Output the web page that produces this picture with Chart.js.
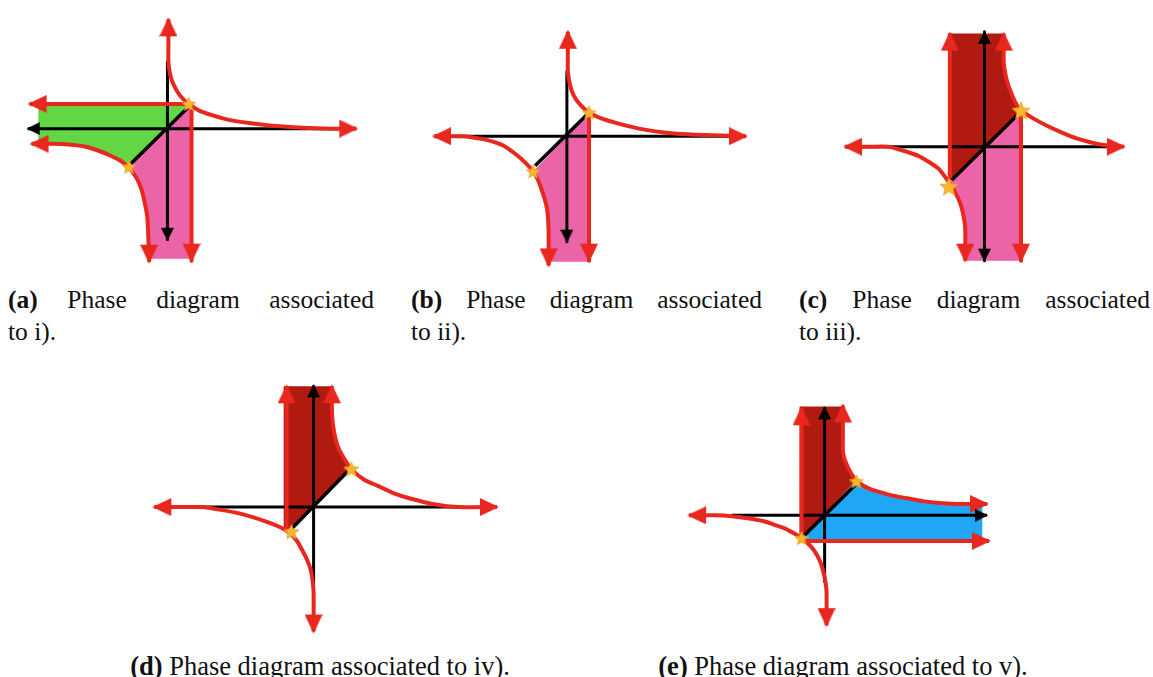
<!DOCTYPE html>
<html>
<head>
<meta charset="utf-8">
<script src="https://cdn.jsdelivr.net/npm/chart.js@4.4.1/dist/chart.umd.min.js"></script>
<style>
  html, body { margin:0; padding:0; background:#fff; }
  body { width:1153px; height:677px; position:relative; overflow:hidden; font-family:"Liberation Serif", "DejaVu Serif", serif; color:#111; }
  canvas { position:absolute; }
  .cap { position:absolute; font-size:25.5px; line-height:32px; white-space:nowrap; }
  .just { white-space:normal; text-align:justify; text-align-last:justify; }
  .ctr { transform:translateX(-50%); font-size:26.5px; }
</style>
</head>
<body>
<canvas id="pa"></canvas>
<canvas id="pb"></canvas>
<canvas id="pc"></canvas>
<canvas id="pd"></canvas>
<canvas id="pe"></canvas>

<div class="cap just" style="left:8px;top:284px;width:366px"><b>(a)</b> Phase diagram associated</div>
<div class="cap" style="left:8px;top:316px">to i).</div>
<div class="cap just" style="left:411px;top:284px;width:351px"><b>(b)</b> Phase diagram associated</div>
<div class="cap" style="left:411px;top:316px">to ii).</div>
<div class="cap just" style="left:799px;top:284px;width:351px"><b>(c)</b> Phase diagram associated</div>
<div class="cap" style="left:799px;top:316px">to iii).</div>
<div class="cap ctr" style="left:320px;top:650px"><b>(d)</b> Phase diagram associated to iv).</div>
<div class="cap ctr" style="left:843px;top:650px"><b>(e)</b> Phase diagram associated to v).</div>

<script>
// ---------- DATA (local units: origin at the axes crossing, y upward) ----------
// Panel (a)
const aUpperCurve = [[1,115],[1,90],[1,70],[3,56],[7,45],[13,35],[22,26],[33,19],[47,14],[65,9],[85,6],[110,3],[140,1],[170,0],[196,0]];
const aLowerCurve = [[-141,-16],[-120,-16],[-100,-17],[-85,-19],[-72,-23],[-60,-28],[-50,-33],[-42,-39],[-36,-46],[-31,-54],[-27,-64],[-24,-76],[-21,-92],[-20,-110],[-19,-140]];
const aRedLines   = [[[-143,26],[22,26]], [[25,26],[25,-139]]];
const aAxes       = [[[-145,0],[185,0]], [[0,70],[0,-117]]];
const aDiagonal   = [[-38,-37],[21,22]];
const aStars      = [[22,26],[-40,-40]];
const aGreen      = [[-134,26],[22,26],[-40,-41],[-42,-39],[-50,-33],[-60,-28],[-72,-23],[-85,-19],[-100,-17],[-120,-16],[-134,-16]];
const aPink       = [[22,26],[25,26],[25,-137],[-19,-137],[-20,-110],[-21,-92],[-24,-76],[-27,-64],[-31,-54],[-36,-46],[-40,-41]];
const aRedArrows  = [[1,115,'up'],[196,0,'right'],[-143,26,'left'],[25,-139,'down'],[-141,-16,'left'],[-19,-140,'down']];
const aBlackArrows= [[-145,0,'left'],[0,-117,'down']];

// Panel (b)
const bUpperCurve = [[1,110],[1,90],[1,69],[3,55],[7,43],[14,33],[23,25],[35,19],[51,14],[75,8],[101,4],[125,2],[151,1],[186,0]];
const bLowerCurve = [[-138,0],[-123,0],[-110,0],[-99,-1],[-87,-3],[-76,-6],[-64,-11],[-53,-19],[-44,-27],[-35,-37],[-30,-46],[-26,-57],[-22,-70],[-20,-81],[-19,-100],[-19,-117],[-19,-136]];
const bRedLines   = [[[23,25],[23,-131]]];
const bAxes       = [[[-123,0],[171,0]], [[0,68],[0,-111]]];
const bDiagonal   = [[-33,-31],[21,23]];
const bStars      = [[23,25],[-35,-37]];
const bPink       = [[23,25],[23,-132],[-18,-132],[-19,-117],[-19,-100],[-20,-81],[-22,-70],[-26,-57],[-30,-46],[-35,-37]];
const bRedArrows  = [[1,110,'up'],[186,0,'right'],[-138,0,'left'],[-19,-136,'down'],[23,-131,'down']];
const bBlackArrows= [[0,-111,'down']];

// Panel (c)
const cUpperCurve = [[20,119],[20,100],[20,89],[22,75],[25,64],[32,47],[38,38],[52,29],[65,22],[80,15],[95,9],[122,2],[145,0]];
const cLowerCurve = [[-145,0],[-120,0],[-100,0],[-85,-4],[-68,-10],[-48,-23],[-38,-36],[-31,-47],[-25,-60],[-22,-72],[-20,-86],[-20,-120]];
const cRedLines   = [[[-36,-35],[-36,119]], [[38,38],[38,-120]]];
const cAxes       = [[[-130,0],[132,0]], [[0,121],[0,-120]]];
const cDiagonal   = [[-34,-35],[34,33]];
const cStars      = [[38,38],[-37,-42]];
const cDarkRed    = [[-38,119],[20,119],[20,100],[20,89],[22,75],[25,64],[32,47],[38,38],[-34,-35],[-38,-35]];
const cPink       = [[38,38],[38,-120],[-20,-120],[-20,-86],[-22,-72],[-25,-60],[-31,-47],[-38,-36],[-34,-35]];
const cRedArrows  = [[20,119,'up'],[145,0,'right'],[-145,0,'left'],[-20,-120,'down'],[-36,119,'up'],[38,-120,'down']];
const cBlackArrows= [[0,121,'up'],[0,-120,'down']];

// Panel (d)
const dUpperCurve = [[19,127],[19,100],[20,87],[22,75],[25,64],[31,52],[39,40],[52,29],[67,22],[82,15],[100,9],[125,3],[150,0],[190,0]];
const dLowerCurve = [[-165,0],[-140,0],[-116,0],[-96,-3],[-76,-7],[-50,-15],[-35,-21],[-24,-28],[-17,-36],[-12,-45],[-7,-55],[-3,-66],[-1,-78],[0,-90],[0,-131]];
const dRedLines   = [[[-28,-23],[-28,127]]];
const dAxes       = [[[-163,0],[150,0]], [[0,127],[0,-80]]];
const dDiagonal   = [[-22,-22],[35,37]];
const dStars      = [[39,40],[-23,-26]];
const dDarkRed    = [[-31,127],[19,127],[19,100],[20,87],[22,75],[25,64],[31,52],[39,40],[-22,-22],[-31,-24]];
const dRedArrows  = [[19,127,'up'],[190,0,'right'],[-165,0,'left'],[0,-131,'down'],[-28,127,'up']];
const dBlackArrows= [[0,128,'up']];

// Panel (e)
const eUpperCurve = [[19,116],[19,80],[19,68],[20,62],[22,56],[25,49],[29,42],[33,37],[39,32],[47,28],[56,25],[70,21],[86,18],[102,15],[119,13],[136,12],[153,12],[169,12]];
const eLowerCurve = [[-141,0],[-127,0],[-113,0],[-97,-1],[-80,-3],[-64,-6],[-52,-10],[-41,-14],[-32,-19],[-24,-24],[-17,-30],[-11,-37],[-5,-48],[-1,-61],[1,-71],[2,-81],[2,-116]];
const eRedLines   = [[[-24,-24],[-24,113]], [[-24,-27],[171,-27]]];
const eAxes       = [[[-97,0],[169,0]], [[0,113],[0,-70]]];
const eDiagonal   = [[-21,-21],[33,33]];
const eStars      = [[33,36],[-24,-24]];
const eDarkRed    = [[-26,115],[19,115],[19,80],[19,68],[20,62],[22,56],[25,49],[29,42],[33,37],[-21,-21],[-26,-22]];
const eBlue       = [[33,37],[39,32],[47,28],[56,25],[70,21],[86,18],[102,15],[119,13],[136,12],[153,12],[164,12],[164,-25],[-22,-25],[-21,-21]];
const eRedArrows  = [[19,116,'up'],[169,12,'right'],[-141,0,'left'],[2,-116,'down'],[-24,113,'up'],[171,-27,'right']];
const eBlackArrows= [[0,114,'up'],[169,0,'right']];

// ---------- STYLE / LAYOUT ----------
const RED = '#e8271f', BLACK = '#000000';
const GREEN = '#63d645', PINK = '#ec64a8', DARKRED = '#b01a10', BLUE = '#1fa7f6';
const ROT = {up:0, right:90, down:180, left:270};

const panels = [
  {id:'pa', left:0,   top:0,   w:385, h:282, ox:166.5, oy:128, star:16,
   upper:aUpperCurve, lower:aLowerCurve, red:aRedLines, axes:aAxes, diag:aDiagonal, stars:aStars,
   regions:[[aGreen,GREEN],[aPink,PINK]], redArrows:aRedArrows, blackArrows:aBlackArrows},
  {id:'pb', left:400, top:0,   w:380, h:282, ox:566, oy:136, star:16,
   upper:bUpperCurve, lower:bLowerCurve, red:bRedLines, axes:bAxes, diag:bDiagonal, stars:bStars,
   regions:[[bPink,PINK]], redArrows:bRedArrows, blackArrows:bBlackArrows},
  {id:'pc', left:790, top:0,   w:363, h:282, ox:985, oy:147, star:20,
   upper:cUpperCurve, lower:cLowerCurve, red:cRedLines, axes:cAxes, diag:cDiagonal, stars:cStars,
   regions:[[cDarkRed,DARKRED],[cPink,PINK]], redArrows:cRedArrows, blackArrows:cBlackArrows},
  {id:'pd', left:130, top:365, w:400, h:285, ox:313, oy:507, star:17,
   upper:dUpperCurve, lower:dLowerCurve, red:dRedLines, axes:dAxes, diag:dDiagonal, stars:dStars,
   regions:[[dDarkRed,DARKRED]], redArrows:dRedArrows, blackArrows:dBlackArrows},
  {id:'pe', left:660, top:380, w:360, h:265, ox:824, oy:515.5, star:16,
   upper:eUpperCurve, lower:eLowerCurve, red:eRedLines, axes:eAxes, diag:eDiagonal, stars:eStars,
   regions:[[eDarkRed,DARKRED],[eBlue,BLUE]], redArrows:eRedArrows, blackArrows:eBlackArrows}
];

// ---------- point images ----------
function arrowImage(color, w, h, lead) {
  const c = document.createElement('canvas');
  c.width = w; c.height = 2 * h;
  const g = c.getContext('2d');
  g.fillStyle = color;
  g.beginPath();
  g.moveTo(w / 2, h - lead);
  g.lineTo(w, 2 * h - lead);
  g.lineTo(0, 2 * h - lead);
  g.closePath();
  g.fill();
  return c;
}
function starImage(size) {
  const c = document.createElement('canvas');
  c.width = size; c.height = size;
  const g = c.getContext('2d');
  const cx = size / 2, cy = size / 2 + 0.7, R = size / 2 - 0.7, r = R * 0.45;
  g.beginPath();
  for (let i = 0; i < 10; i++) {
    const rad = i % 2 === 0 ? R : r;
    const a = -Math.PI / 2 + i * Math.PI / 5;
    const px = cx + rad * Math.cos(a), py = cy + rad * Math.sin(a);
    if (i === 0) g.moveTo(px, py); else g.lineTo(px, py);
  }
  g.closePath();
  g.fillStyle = '#f8b630';
  g.fill();
  g.lineWidth = 0.8;
  g.strokeStyle = '#eea020';
  g.stroke();
  return c;
}
const RED_ARROW = arrowImage(RED, 18, 19, 2);
const BLACK_ARROW = arrowImage(BLACK, 13, 13, 1);

// ---------- dataset builders ----------
const toXY = pts => pts.map(p => ({x: p[0], y: p[1]}));
function lineDS(pts, color, width, order, tension) {
  return {data: toXY(pts), showLine: true, borderColor: color, borderWidth: width, pointRadius: 0,
          tension: tension || 0, order, clip: false, borderCapStyle: 'butt', borderJoinStyle: 'round', fill: false};
}
function fillDS(pts, color, order) {
  return {data: toXY(pts), showLine: true, borderWidth: 0, borderColor: 'rgba(0,0,0,0)',
          backgroundColor: color, fill: 'shape', pointRadius: 0, tension: 0, order, clip: false};
}
function pointDS(arr, img, order) {
  return {data: toXY(arr), showLine: false, pointStyle: img, pointRadius: 6,
          pointRotation: arr.map(a => a[2] ? ROT[a[2]] : 0), order, clip: false};
}

panels.forEach(p => {
  const cv = document.getElementById(p.id);
  cv.width = p.w; cv.height = p.h;
  cv.style.left = p.left + 'px'; cv.style.top = p.top + 'px';
  cv.style.width = p.w + 'px'; cv.style.height = p.h + 'px';

  const ds = [];
  p.regions.forEach(([pts, col]) => ds.push(fillDS(pts, col, 20)));
  p.axes.forEach(seg => ds.push(lineDS(seg, BLACK, 3, 15)));
  p.red.forEach(seg => ds.push(lineDS(seg, RED, 4, 10)));
  ds.push(lineDS(p.upper, RED, 4, 10, 0.2));
  ds.push(lineDS(p.lower, RED, 4, 10, 0.2));
  ds.push(lineDS(p.diag, BLACK, 3.5, 6));
  ds.push(pointDS(p.redArrows, RED_ARROW, 4));
  ds.push(pointDS(p.blackArrows, BLACK_ARROW, 3));
  ds.push(pointDS(p.stars, starImage(p.star), 1));

  new Chart(cv, {
    type: 'scatter',
    data: {datasets: ds},
    options: {
      responsive: false,
      maintainAspectRatio: false,
      animation: false,
      devicePixelRatio: 1,
      events: [],
      layout: {padding: 0},
      plugins: {legend: {display: false}, tooltip: {enabled: false}},
      scales: {
        x: {type: 'linear', display: false, min: p.left - p.ox, max: p.left + p.w - p.ox},
        y: {type: 'linear', display: false, min: p.oy - (p.top + p.h), max: p.oy - p.top}
      }
    }
  });
});
</script>
</body>
</html>
